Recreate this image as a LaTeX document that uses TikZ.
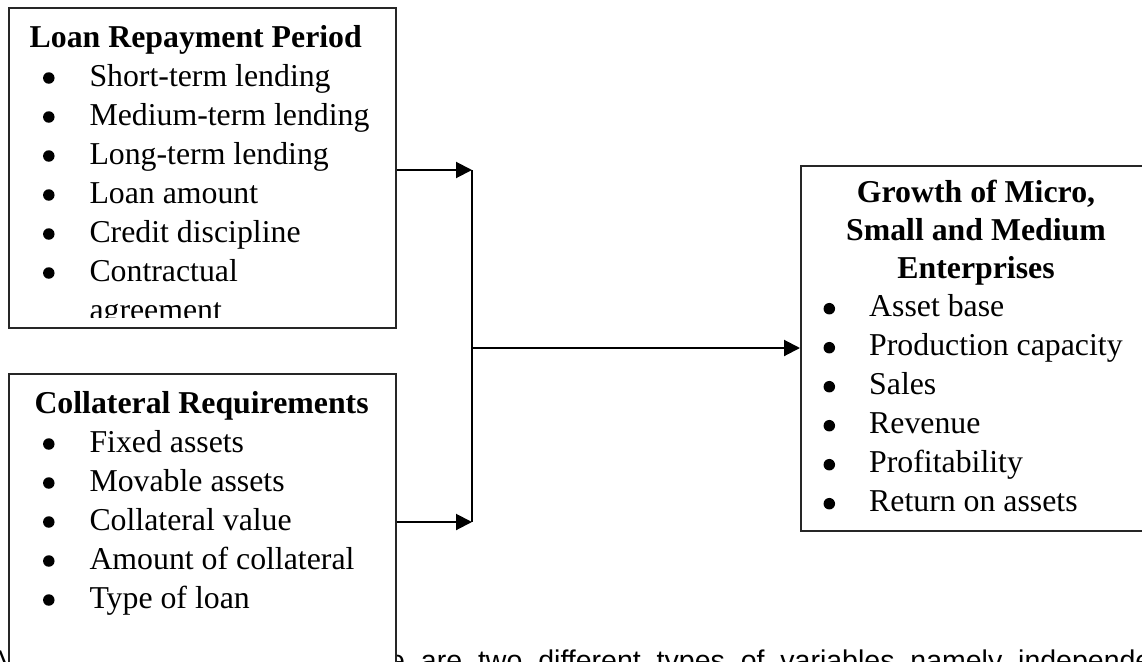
\documentclass[tikz,border=0pt]{standalone}
\usepackage{fontspec}
\setmainfont{Liberation Serif}
\newfontfamily\arialfont{Liberation Sans}
\usetikzlibrary{arrows.meta}
\begin{document}
\begin{tikzpicture}[x=1pt,y=-1pt,
  frame/.style={draw=black!85, line width=1.6pt, fill=white, inner sep=0pt, anchor=north west},
  head/.style={font=\fontsize{31.8pt}{38pt}\selectfont\bfseries, inner sep=0pt, anchor=base west},
  headc/.style={font=\fontsize{31.8pt}{38pt}\selectfont\bfseries, inner sep=0pt, anchor=base},
  item/.style={font=\fontsize{31.8pt}{38pt}\selectfont, inner sep=0pt, anchor=base west},
  dot/.style={circle, fill=black, inner sep=0pt, minimum size=11.5pt},
  body/.style={font=\arialfont\fontsize{28.5pt}{34pt}\selectfont, inner sep=0pt, anchor=base west},
  arr/.style={draw=black, line width=2pt, -{Triangle[length=16pt,width=16pt]}},
  link/.style={draw=black, line width=2pt}]
\useasboundingbox (0,0) rectangle (1142,661);
\clip (0,0) rectangle (1142,661);

% running text behind the figure
\node[body] (ta) at (-10,670) {A};
\node[body] (tb) at (389,670) {\makebox[786pt][s]{e are two different types of variables namely independent}};

% boxes
\node[frame, minimum width=387pt, minimum height=320pt] (lrp) at (8,7) {};
\node[frame, minimum width=387pt, minimum height=400pt] (cr) at (8,373) {};
\node[frame, minimum width=352pt, minimum height=365pt] (gm) at (800,165) {};

% box 1 text
\begin{scope}
\clip (8,7) rectangle (395,317);
\node[head] (lrpt) at (29.5,47.5) {Loan Repayment Period};
\foreach \t [count=\i] in {Short-term lending, Medium-term lending, Long-term lending, Loan amount, Credit discipline, Contractual} {
  \node[item] (la\i) at (89.3,{86+39*(\i-1)}) {\t};
  \node[dot] (ld\i) at (48.8,{78+39*(\i-1)}) {};
}
\node[item] (la7) at (89.3,320) {agreement};
\end{scope}

% box 2 text
\node[head] (crt) at (34.3,413) {Collateral Requirements};
\foreach \t [count=\i] in {Fixed assets, Movable assets, Collateral value, Amount of collateral, Type of loan} {
  \node[item] (ca\i) at (89.3,{452+39*(\i-1)}) {\t};
  \node[dot] (cd\i) at (48.8,{444+39*(\i-1)}) {};
}

% box 3 text
\node[headc] (gt1) at (976,202) {Growth of Micro,};
\node[headc] (gt2) at (976,240.5) {Small and Medium};
\node[headc] (gt3) at (976,278.5) {Enterprises};
\foreach \t [count=\i] in {Asset base, Production capacity, Sales, Revenue, Profitability, Return on assets} {
  \node[item] (ga\i) at (869,{316.7+39*(\i-1)}) {\t};
  \node[dot] (gd\i) at (829.3,{308.7+39*(\i-1)}) {};
}

% connectors
\coordinate (jtop) at (472,170);
\coordinate (jbot) at (472,522);
\coordinate (jmid) at (473,348);
\draw[link] (jtop) -- (jbot);
\draw[arr] (lrp.east |- jtop) -- (jtop);
\draw[arr] (cr.east |- jbot) -- (jbot);
\draw[arr] (jmid) -- (gm.west |- jmid);
\end{tikzpicture}
\end{document}
